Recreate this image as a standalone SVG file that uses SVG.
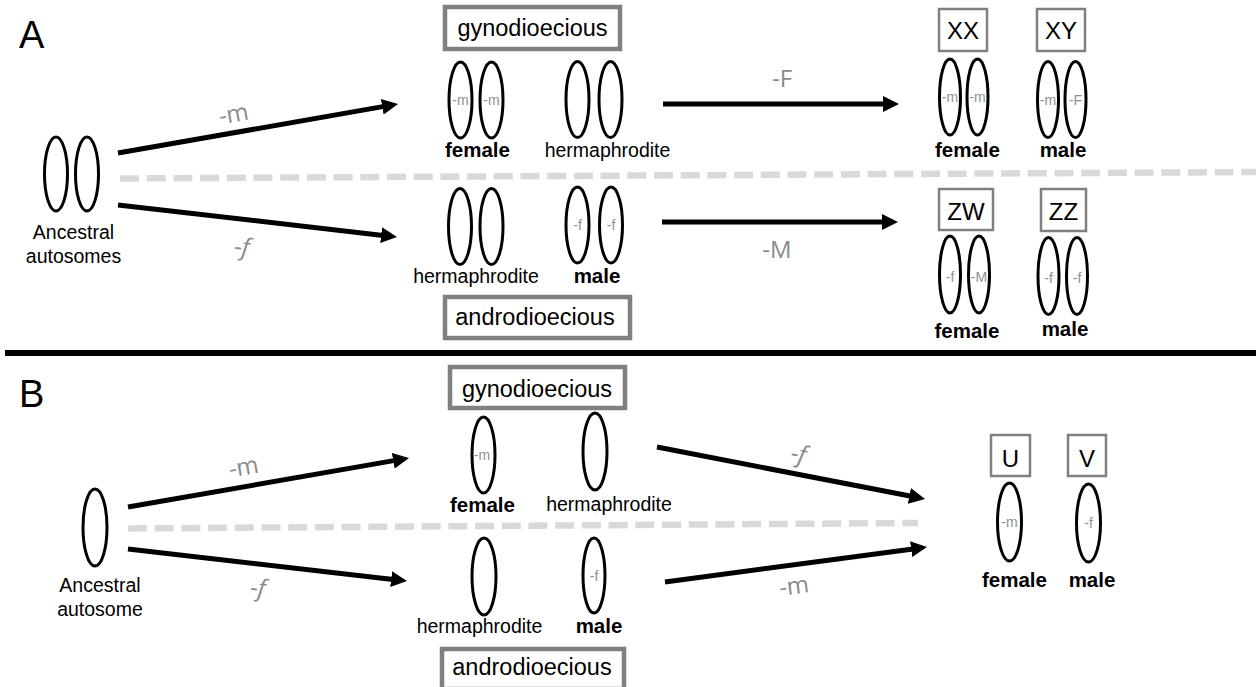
<svg xmlns="http://www.w3.org/2000/svg" width="1256" height="687" viewBox="0 0 1256 687">
  <style>
    text { font-family: "Liberation Sans", Arial, sans-serif; fill: #000; }
    .panel { font-size: 38px; }
    .lbl { font-size: 19.5px; text-anchor: middle; }
    .sex { font-size: 20.5px; font-weight: bold; text-anchor: middle; }
    .sys { font-size: 23.5px; text-anchor: middle; }
    .chr { font-size: 24px; text-anchor: middle; }
    .in { font-size: 14px; fill: #909090; text-anchor: middle; }
    .mut { font-family: "Open Sans", "Liberation Sans", sans-serif; font-size: 24px; fill: #8a8a8a; text-anchor: middle; }
    .ell { fill: #fff; stroke: #000; stroke-width: 3; }
    .sysbox { fill: #fff; stroke: #808080; stroke-width: 4.5; }
    .chrbox { fill: #fff; stroke: #808080; stroke-width: 2.5; }
    .arrow { stroke: #000; stroke-width: 5; fill: none; marker-end: url(#head); }
    .split { stroke: #d9d9d9; stroke-width: 6.5; stroke-dasharray: 19 7.7; fill: none; }
  </style>
  <defs>
    <marker id="head" markerUnits="userSpaceOnUse" viewBox="0 0 16 16" markerWidth="16" markerHeight="16" refX="2" refY="8" orient="auto">
      <path d="M0,0 L16,8 L0,16 z" fill="#000"/>
    </marker>
  </defs>

  <rect width="1256" height="687" fill="#fff"/>

  <!-- panel dividers -->
  <g id="dividers">
    <line x1="5" y1="353" x2="1256" y2="353" stroke="#000" stroke-width="6"/>
    <line class="split" x1="120" y1="178.5" x2="1256" y2="172"/>
    <line class="split" x1="128" y1="528.5" x2="918" y2="523"/>
  </g>

  <text class="panel" x="19" y="48">A</text>
  <text class="panel" x="19" y="407">B</text>

  <!-- connectors -->
  <g id="connectors">
    <line class="arrow" x1="118" y1="153" x2="384.2" y2="106.4"/>
    <line class="arrow" x1="118" y1="205" x2="383.1" y2="235.4"/>
    <line class="arrow" x1="663" y1="104" x2="885" y2="104"/>
    <line class="arrow" x1="662" y1="222" x2="884" y2="222"/>
    <line class="arrow" x1="128" y1="507" x2="395.2" y2="460.4"/>
    <line class="arrow" x1="128" y1="549" x2="393.1" y2="579.4"/>
    <line class="arrow" x1="657" y1="447" x2="911.3" y2="496.3"/>
    <line class="arrow" x1="665" y1="582" x2="913.1" y2="548.9"/>

    <text class="mut" transform="translate(235,122) rotate(-10)">-m</text>
    <text class="mut" transform="translate(241,255) rotate(6.5)">-<tspan font-style="italic">f</tspan></text>
    <text class="mut" x="782" y="87">-F</text>
    <text class="mut" x="777" y="258">-M</text>
    <text class="mut" transform="translate(245,475) rotate(-10)">-m</text>
    <text class="mut" transform="translate(257,596) rotate(6.5)">-<tspan font-style="italic">f</tspan></text>
    <text class="mut" transform="translate(797,462) rotate(11)">-<tspan font-style="italic">f</tspan></text>
    <text class="mut" transform="translate(795,594) rotate(-7.5)">-m</text>
  </g>

  <!-- Panel A -->
  <g id="a-ancestral">
    <ellipse class="ell" cx="56" cy="174" rx="11.5" ry="37"/>
    <ellipse class="ell" cx="87" cy="174" rx="11.5" ry="37"/>
    <text class="lbl" x="73.5" y="239">Ancestral</text>
    <text class="lbl" x="73.5" y="263">autosomes</text>
  </g>

  <g id="a-gynodioecious">
    <rect class="sysbox" x="445" y="7" width="175" height="42"/>
    <text class="sys" x="532.5" y="36">gynodioecious</text>
  </g>

  <g id="a-gyno-female">
    <ellipse class="ell" cx="460.5" cy="100" rx="11.5" ry="38"/>
    <ellipse class="ell" cx="491.5" cy="100" rx="11.5" ry="38"/>
    <text class="in" x="460.5" y="105">-m</text>
    <text class="in" x="491.5" y="105">-m</text>
    <text class="sex" x="477.5" y="157">female</text>
  </g>

  <g id="a-gyno-herm">
    <ellipse class="ell" cx="577.5" cy="99.5" rx="11.5" ry="38"/>
    <ellipse class="ell" cx="610.5" cy="99.5" rx="11.5" ry="38"/>
    <text class="lbl" x="607.5" y="157">hermaphrodite</text>
  </g>

  <g id="a-andro-herm">
    <ellipse class="ell" cx="460" cy="226.5" rx="11.5" ry="38"/>
    <ellipse class="ell" cx="491.5" cy="226.5" rx="11.5" ry="38"/>
    <text class="lbl" x="476" y="283">hermaphrodite</text>
  </g>

  <g id="a-andro-male">
    <ellipse class="ell" cx="577.5" cy="225" rx="11.5" ry="38"/>
    <ellipse class="ell" cx="611" cy="225" rx="11.5" ry="38"/>
    <text class="in" x="577.5" y="230">-f</text>
    <text class="in" x="611" y="230">-f</text>
    <text class="sex" x="597" y="283">male</text>
  </g>

  <g id="a-androdioecious">
    <rect class="sysbox" x="445" y="297" width="185" height="41"/>
    <text class="sys" x="535" y="325">androdioecious</text>
  </g>

  <g id="a-xx">
    <rect class="chrbox" x="939" y="9" width="48" height="42"/>
    <text class="chr" x="963" y="39">XX</text>
    <ellipse class="ell" cx="950" cy="97" rx="10.5" ry="38"/>
    <ellipse class="ell" cx="977.5" cy="97" rx="10.5" ry="38"/>
    <text class="in" x="950" y="102">-m</text>
    <text class="in" x="977.5" y="102">-m</text>
    <text class="sex" x="967.5" y="157">female</text>
  </g>

  <g id="a-xy">
    <rect class="chrbox" x="1037" y="9" width="48" height="42"/>
    <text class="chr" x="1061" y="39">XY</text>
    <ellipse class="ell" cx="1048" cy="99.5" rx="10.5" ry="38"/>
    <ellipse class="ell" cx="1075.5" cy="99.5" rx="10.5" ry="38"/>
    <text class="in" x="1048" y="105">-m</text>
    <text class="in" x="1075.5" y="105">-F</text>
    <text class="sex" x="1063" y="157">male</text>
  </g>

  <g id="a-zw">
    <rect class="chrbox" x="939" y="189" width="54" height="41"/>
    <text class="chr" x="966" y="220">ZW</text>
    <ellipse class="ell" cx="950" cy="274.5" rx="10.5" ry="38.5"/>
    <ellipse class="ell" cx="979" cy="274.5" rx="10.5" ry="38.5"/>
    <text class="in" x="950" y="282">-f</text>
    <text class="in" x="979" y="282">-M</text>
    <text class="sex" x="967" y="338">female</text>
  </g>

  <g id="a-zz">
    <rect class="chrbox" x="1041" y="189" width="45" height="42"/>
    <text class="chr" x="1063.5" y="220">ZZ</text>
    <ellipse class="ell" cx="1048.5" cy="276" rx="10.5" ry="38.5"/>
    <ellipse class="ell" cx="1077" cy="276" rx="10.5" ry="38.5"/>
    <text class="in" x="1048.5" y="283">-f</text>
    <text class="in" x="1077" y="283">-f</text>
    <text class="sex" x="1065" y="336">male</text>
  </g>

  <!-- Panel B -->
  <g id="b-ancestral">
    <ellipse class="ell" cx="95" cy="527.5" rx="12" ry="38.5"/>
    <text class="lbl" x="100" y="592">Ancestral</text>
    <text class="lbl" x="100" y="616">autosome</text>
  </g>

  <g id="b-gynodioecious">
    <rect class="sysbox" x="450" y="367" width="175" height="41"/>
    <text class="sys" x="537" y="397">gynodioecious</text>
  </g>

  <g id="b-gyno-female">
    <ellipse class="ell" cx="483.5" cy="455" rx="11.5" ry="38"/>
    <text class="in" x="482" y="460">-m</text>
    <text class="sex" x="482.5" y="512">female</text>
  </g>

  <g id="b-gyno-herm">
    <ellipse class="ell" cx="595" cy="451.5" rx="12" ry="38.5"/>
    <text class="lbl" x="609" y="511">hermaphrodite</text>
  </g>

  <g id="b-andro-herm">
    <ellipse class="ell" cx="484" cy="576.5" rx="12" ry="38.5"/>
    <text class="lbl" x="479.5" y="633">hermaphrodite</text>
  </g>

  <g id="b-andro-male">
    <ellipse class="ell" cx="594" cy="575.5" rx="11" ry="37.5"/>
    <text class="in" x="594" y="581">-f</text>
    <text class="sex" x="599" y="633">male</text>
  </g>

  <g id="b-androdioecious">
    <rect class="sysbox" x="442" y="649" width="182" height="40"/>
    <text class="sys" x="532" y="675">androdioecious</text>
  </g>

  <g id="b-u">
    <rect class="chrbox" x="991" y="435" width="39" height="41"/>
    <text class="chr" x="1010.5" y="467">U</text>
    <ellipse class="ell" cx="1009.5" cy="522" rx="12" ry="39"/>
    <text class="in" x="1009.5" y="527">-m</text>
    <text class="sex" x="1014.5" y="587">female</text>
  </g>

  <g id="b-v">
    <rect class="chrbox" x="1068" y="435" width="38" height="41"/>
    <text class="chr" x="1087" y="467">V</text>
    <ellipse class="ell" cx="1088.5" cy="523" rx="12" ry="39"/>
    <text class="in" x="1088.5" y="528">-f</text>
    <text class="sex" x="1092" y="587">male</text>
  </g>
</svg>
